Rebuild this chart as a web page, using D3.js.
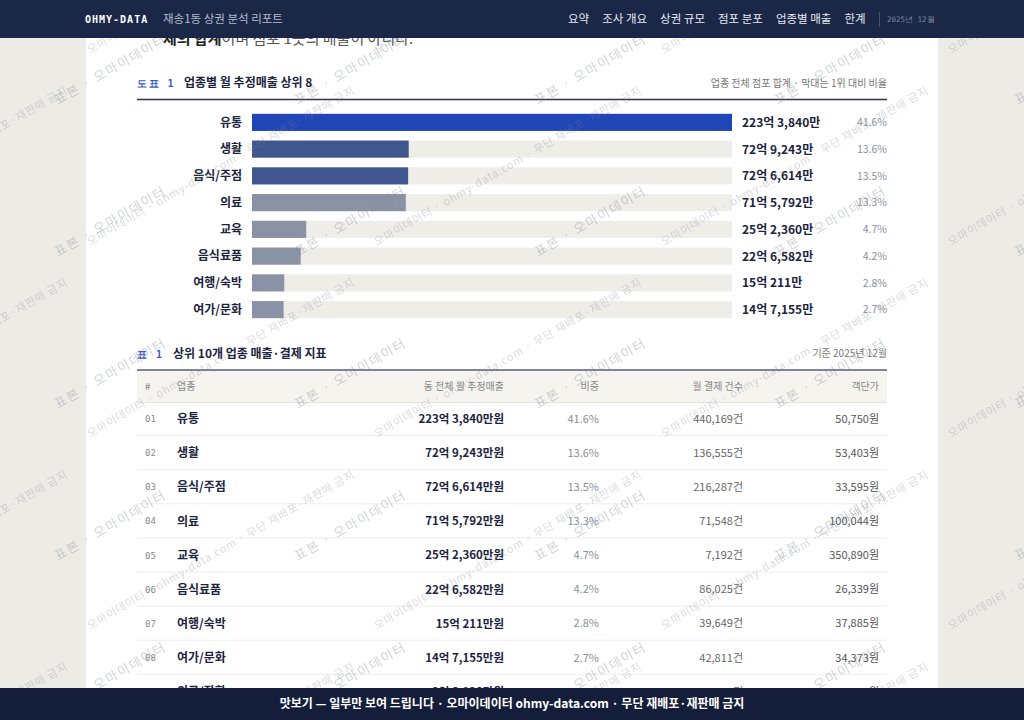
<!DOCTYPE html>
<meta charset="utf-8">
<head>
    <title>재송1동 상권 분석 리포트</title>
    <script src="https://cdn.jsdelivr.net/npm/d3@7"></script>
    <style>
        html, body { margin: 0; padding: 0; background: #ecebe6; overflow: hidden; }
        svg { display: block; font-family: "Noto Sans CJK KR", "Noto Sans", sans-serif; }
    </style>
</head>
<body>
    <svg id="chart"></svg>
    <script>
        // chart data (sales in 만원)
        var categories = ['유통', '생활', '음식/주점', '의료', '교육', '음식료품', '여행/숙박', '여가/문화'];
        var sales = [2233840, 729243, 726614, 715792, 252360, 226582, 150211, 147155];
        var shares = [41.6, 13.6, 13.5, 13.3, 4.7, 4.2, 2.8, 2.7];
        var counts = [440169, 136555, 216287, 71548, 7192, 86025, 39649, 42811];
        var unitPrices = [50750, 53403, 33595, 100044, 350890, 26339, 37885, 34373];
        // row 9 of the table sits behind the footer, only its top edge shows
        var extraCategories = ['의류/잡화'];
        var extraSales = [98120];
        var extraShares = [1.8];
        var extraCounts = [21340];
        var extraUnitPrices = [45980];

        var navItems = ['요약', '조사 개요', '상권 규모', '점포 분포', '업종별 매출', '한계'];
        var tableHeaders = ['#', '업종', '동 전체 월 추정매출', '비중', '월 결제 건수', '객단가'];

        var W = 1024, H = 720;
        var navy = '#1b2746', ink = '#1c2440', grey = '#8a8f9c';

        var svg = d3.select('#chart').attr('width', W).attr('height', H);

        var fmtComma = d3.format(',');
        function eokMan(v) {
            var eok = Math.floor(v / 10000), man = v % 10000;
            return eok + '억 ' + fmtComma(man) + '만';
        }

        // page
        svg.append('rect').attr('width', W).attr('height', H).attr('fill', '#ecebe6');
        svg.append('rect').attr('x', 86).attr('y', 0).attr('width', 852).attr('height', H).attr('fill', '#fff');

        var defs = svg.append('defs');
        defs.append('clipPath').attr('id', 'above-footer')
            .append('rect').attr('x', 0).attr('y', 38).attr('width', W).attr('height', 650);

        // intro sentence cut by the header
        svg.append('text').attr('x', 163).attr('y', 44)
            .attr('clip-path', 'url(#above-footer)')
            .style('font-size', '15px').attr('fill', '#555')
            .call(function (t) {
                t.append('tspan').attr('font-weight', 700).attr('fill', '#222').text('체의 합계');
                t.append('tspan').text('이며 점포 1곳의 매출이 아니다.');
            });

        // ---- figure 1 ----
        var fig = svg.append('g');
        fig.append('text').attr('x', 137).attr('y', 87)
            .style('font-family', 'DejaVu Sans Mono, monospace').style('font-size', '10px')
            .style('font-weight', 700).style('letter-spacing', '1.5px')
            .attr('fill', '#3a5cc8').text('도표 1');
        fig.append('text').attr('x', 184).attr('y', 87)
            .style('font-size', '12px').style('font-weight', 700).attr('fill', ink)
            .text('업종별 월 추정매출 상위 8');
        fig.append('text').attr('x', 887).attr('y', 87).attr('text-anchor', 'end')
            .style('font-size', '10px').attr('fill', '#777')
            .text('업종 전체 점포 합계 · 막대는 1위 대비 비율');
        fig.append('line').attr('x1', 137).attr('x2', 887).attr('y1', 99.5).attr('y2', 99.5)
            .attr('stroke', '#2b3352').attr('stroke-width', 1.3);

        var x = d3.scaleLinear().domain([0, d3.max(sales)]).range([252, 732]);
        var y = d3.scaleBand().domain(categories).range([109, 323]).paddingInner(0.36).paddingOuter(0.18);

        function barColor(i) {
            return i === 0 ? '#1f45b6' : (i < 3 ? '#3f568e' : '#8a92a6');
        }

        var rows = fig.selectAll('g.bar').data(categories).enter().append('g').attr('class', 'bar');
        rows.append('rect').attr('x', x(0)).attr('y', function (d) { return y(d); })
            .attr('width', x.range()[1] - x(0)).attr('height', y.bandwidth()).attr('fill', '#efede8');
        rows.append('rect').attr('x', x(0)).attr('y', function (d) { return y(d); })
            .attr('width', function (d, i) { return x(sales[i]) - x(0); })
            .attr('height', y.bandwidth()).attr('fill', function (d, i) { return barColor(i); });
        rows.append('text').attr('x', 242).attr('y', function (d) { return y(d) + y.bandwidth() / 2; })
            .attr('dy', '0.35em').attr('text-anchor', 'end')
            .style('font-size', '12px').style('font-weight', 700).attr('fill', ink)
            .text(function (d) { return d; });
        rows.append('text').attr('x', 742).attr('y', function (d) { return y(d) + y.bandwidth() / 2; })
            .attr('dy', '0.37em')
            .style('font-size', '12px').style('font-weight', 700).attr('fill', ink)
            .text(function (d, i) { return eokMan(sales[i]); });
        rows.append('text').attr('x', 887).attr('y', function (d) { return y(d) + y.bandwidth() / 2; })
            .attr('dy', '0.35em').attr('text-anchor', 'end')
            .style('font-size', '10.5px').attr('fill', grey)
            .text(function (d, i) { return shares[i].toFixed(1) + '%'; });

        // ---- table 1 ----
        var tbl = svg.append('g').attr('clip-path', 'url(#above-footer)');
        tbl.append('text').attr('x', 137).attr('y', 358)
            .style('font-family', 'DejaVu Sans Mono, monospace').style('font-size', '10px')
            .style('font-weight', 700).style('letter-spacing', '1.5px')
            .attr('fill', '#3a5cc8').text('표 1');
        tbl.append('text').attr('x', 173).attr('y', 358)
            .style('font-size', '12px').style('font-weight', 700).attr('fill', ink)
            .text('상위 10개 업종 매출·결제 지표');
        tbl.append('text').attr('x', 887).attr('y', 357).attr('text-anchor', 'end')
            .style('font-size', '10px').attr('fill', '#777').text('기준 2025년 12월');

        tbl.append('rect').attr('x', 137).attr('y', 370).attr('width', 750).attr('height', 32).attr('fill', '#f5f4ef');
        tbl.append('line').attr('x1', 137).attr('x2', 887).attr('y1', 370).attr('y2', 370)
            .attr('stroke', '#7d849b').attr('stroke-width', 2);
        tbl.append('line').attr('x1', 137).attr('x2', 887).attr('y1', 402.5).attr('y2', 402.5)
            .attr('stroke', '#e4e2dc').attr('stroke-width', 1);

        var cols = [
            { x: 145, anchor: 'start' },
            { x: 177, anchor: 'start' },
            { x: 504, anchor: 'end' },
            { x: 599, anchor: 'end' },
            { x: 743, anchor: 'end' },
            { x: 879, anchor: 'end' }
        ];
        tbl.selectAll('text.th').data(tableHeaders).enter().append('text').attr('class', 'th')
            .attr('x', function (d, i) { return cols[i].x; }).attr('y', 386).attr('dy', '0.35em')
            .attr('text-anchor', function (d, i) { return cols[i].anchor; })
            .style('font-size', '10px').attr('fill', '#888')
            .text(function (d) { return d; });

        var allCats = categories.concat(extraCategories);
        var allSales = sales.concat(extraSales);
        var allShares = shares.concat(extraShares);
        var allCounts = counts.concat(extraCounts);
        var allPrices = unitPrices.concat(extraUnitPrices);

        var ry = d3.scaleBand().domain(d3.range(10)).range([402, 743]);

        var tr = tbl.selectAll('g.tr').data(allCats).enter().append('g').attr('class', 'tr')
            .attr('transform', function (d, i) { return 'translate(0,' + ry(i) + ')'; });
        var mid = ry.bandwidth() / 2;
        tr.append('line').attr('x1', 137).attr('x2', 887)
            .attr('y1', ry.bandwidth() - 0.5).attr('y2', ry.bandwidth() - 0.5)
            .attr('stroke', '#eeede8');
        tr.append('text').attr('x', cols[0].x).attr('y', mid).attr('dy', '0.35em')
            .style('font-family', 'DejaVu Sans Mono, monospace').style('font-size', '9px').attr('fill', '#888')
            .text(function (d, i) { return d3.format('02')(i + 1); });
        tr.append('text').attr('x', cols[1].x).attr('y', mid).attr('dy', '0.35em')
            .style('font-size', '12px').style('font-weight', 700).attr('fill', ink)
            .text(function (d) { return d; });
        tr.append('text').attr('x', cols[2].x).attr('y', mid).attr('dy', '0.35em').attr('text-anchor', 'end')
            .style('font-size', '11.5px').style('font-weight', 700).attr('fill', ink)
            .text(function (d, i) { return eokMan(allSales[i]) + '원'; });
        tr.append('text').attr('x', cols[3].x).attr('y', mid).attr('dy', '0.35em').attr('text-anchor', 'end')
            .style('font-size', '11px').attr('fill', grey)
            .text(function (d, i) { return allShares[i].toFixed(1) + '%'; });
        tr.append('text').attr('x', cols[4].x).attr('y', mid).attr('dy', '0.35em').attr('text-anchor', 'end')
            .style('font-size', '11px').attr('fill', '#666')
            .text(function (d, i) { return fmtComma(allCounts[i]) + '건'; });
        tr.append('text').attr('x', cols[5].x).attr('y', mid).attr('dy', '0.35em').attr('text-anchor', 'end')
            .style('font-size', '11px').attr('fill', '#555')
            .text(function (d, i) { return fmtComma(allPrices[i]) + '원'; });

        // ---- watermark tiles ----
        var pa = defs.append('pattern').attr('id', 'wmA').attr('patternUnits', 'userSpaceOnUse')
            .attr('x', 0).attr('y', 0).attr('width', 240).attr('height', 152);
        pa.append('text').attr('transform', 'translate(58,105) rotate(-30)')
            .style('font-size', '13px').style('letter-spacing', '1.6px')
            .attr('fill', '#7d8494').attr('fill-opacity', 0.36).text('표본 · 오마이데이터');
        var pb = defs.append('pattern').attr('id', 'wmB').attr('patternUnits', 'userSpaceOnUse')
            .attr('x', 85).attr('y', 66).attr('width', 287).attr('height', 192);
        pb.append('text').attr('transform', 'translate(5,180) rotate(-30)')
            .style('font-size', '11px').style('letter-spacing', '0.8px')
            .attr('fill', '#7d8494').attr('fill-opacity', 0.3).text('오마이데이터 · ohmy-data.com · 무단 재배포·재판매 금지');
        svg.append('rect').attr('width', W).attr('height', H).attr('fill', 'url(#wmB)');
        svg.append('rect').attr('width', W).attr('height', H).attr('fill', 'url(#wmA)');

        // ---- header ----
        var hd = svg.append('g');
        hd.append('rect').attr('width', W).attr('height', 38).attr('fill', navy);
        hd.append('text').attr('x', 85).attr('y', 19).attr('dy', '0.35em')
            .style('font-family', 'DejaVu Sans Mono, monospace').style('font-size', '10px')
            .style('font-weight', 700).style('letter-spacing', '1px').attr('fill', '#fff')
            .text('OHMY-DATA');
        hd.append('text').attr('x', 163).attr('y', 19).attr('dy', '0.35em')
            .style('font-size', '11.5px').attr('fill', '#b4bbcc').text('재송1동 상권 분석 리포트');
        var nx = 568;
        navItems.forEach(function (n) {
            var t = hd.append('text').attr('x', nx).attr('y', 19).attr('dy', '0.35em')
                .style('font-size', '11.5px').attr('fill', '#e6e9f0').text(n);
            nx += t.node().getComputedTextLength() + 13;
        });
        hd.append('line').attr('x1', 879.5).attr('x2', 879.5).attr('y1', 12).attr('y2', 27)
            .attr('stroke', '#48536f');
        hd.append('text').attr('x', 887).attr('y', 19).attr('dy', '0.35em')
            .style('font-family', 'DejaVu Sans Mono, monospace').style('font-size', '7.5px')
            .attr('fill', '#7f88a0').text('2025년 12월');

        // ---- footer ----
        var ft = svg.append('g');
        ft.append('rect').attr('x', 0).attr('y', 688).attr('width', W).attr('height', 32).attr('fill', '#141e3a');
        ft.append('text').attr('x', W / 2).attr('y', 704).attr('dy', '0.35em').attr('text-anchor', 'middle')
            .style('font-size', '12px').style('font-weight', 700).attr('fill', '#fff')
            .text('맛보기 — 일부만 보여 드립니다 · 오마이데이터 ohmy-data.com · 무단 재배포·재판매 금지');
    </script>
</body>
</html>
